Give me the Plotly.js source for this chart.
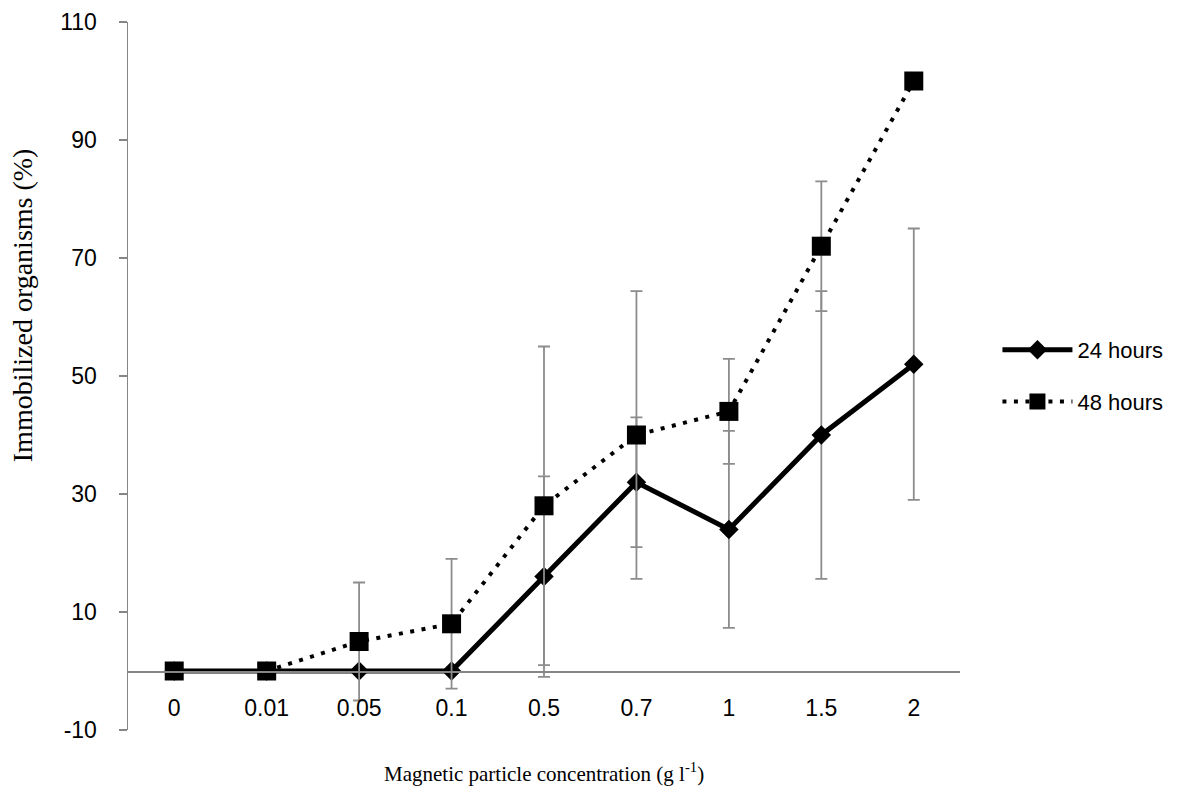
<!DOCTYPE html>
<html>
<head>
<meta charset="utf-8">
<script src="https://cdn.plot.ly/plotly-3.0.1.min.js"></script>
<style>html,body{margin:0;padding:0;background:#fff;}#chart{width:1177px;height:789px;}</style>
</head>
<body>
<div id="chart"></div>
<script>
var categories = ["0", "0.01", "0.05", "0.1", "0.5", "0.7", "1", "1.5", "2"];
var hours24 = [0, 0, 0, 0, 16, 32, 24, 40, 52];
var err24 = [0, 0, 0, 0, 17, 11, 16.7, 24.4, 23];
var hours48 = [0, 0, 5, 8, 28, 40, 44, 72, 100];
var err48 = [0, 0, 10, 11, 27, 24.4, 8.9, 11, 0];
var yTicks = [-10, 10, 30, 50, 70, 90, 110];
var yTickText = ["-10", "10", "30", "50", "70", "90", "110"];

var tickFont = {family: "Liberation Sans, Arial, sans-serif", size: 23, color: "#000"};

var traces = [
  {
    x: categories, y: hours24, name: "24 hours", type: "scatter", mode: "lines+markers",
    legendgroup: "a",
    line: {color: "#000", width: 5},
    marker: {symbol: "diamond", size: 15, color: "#000"},
    error_y: {type: "data", array: err24, visible: true, color: "#8c8c8c", thickness: 1.8, width: 6}
  },
  {
    x: categories, y: hours48, name: "48 hours", type: "scatter", mode: "lines+markers",
    legendgroup: "b",
    line: {color: "#000", width: 4, dash: "4px,7.5px"},
    marker: {symbol: "square", size: 19, color: "#000"},
    error_y: {type: "data", array: err48, visible: true, color: "#8c8c8c", thickness: 1.8, width: 6}
  }
];

var layout = {
  width: 1177, height: 789,
  margin: {l: 128, r: 217, t: 22, b: 59, autoexpand: false},
  paper_bgcolor: "#fff", plot_bgcolor: "#fff",
  showlegend: true,
  legend: {
    x: 1.045, y: 0.5, xanchor: "left", yanchor: "middle",
    font: {family: "Liberation Sans, Arial, sans-serif", size: 22, color: "#000"},
    itemwidth: 70, traceorder: "grouped", tracegroupgap: 20
  },
  xaxis: {
    type: "category", range: [-0.5, 8.5],
    anchor: "free", position: 10 / 120,
    showline: true, linecolor: "#868686", linewidth: 1.5,
    ticks: "", showgrid: false, zeroline: false,
    tickfont: tickFont,
    ticklabelstandoff: 16
  },
  yaxis: {
    range: [-10, 110], tickvals: yTicks, ticktext: yTickText,
    showline: true, linecolor: "#868686", linewidth: 1.5,
    ticks: "outside", ticklen: 8, tickcolor: "#868686", tickwidth: 1.5,
    showgrid: false, zeroline: false,
    tickfont: tickFont,
    ticklabelstandoff: 17
  },
  annotations: [
    {
      text: "Magnetic particle concentration (g l<sup>-1</sup>)",
      xref: "paper", yref: "paper", x: 0.5, y: 0, yshift: -42, xanchor: "center", yanchor: "middle",
      showarrow: false,
      font: {family: "Liberation Serif, Times New Roman, serif", size: 21, color: "#000"}
    },
    {
      text: "Immobilized organisms (%)",
      xref: "paper", yref: "paper", x: 0, xshift: -106, y: 0.6, xanchor: "center", yanchor: "middle",
      textangle: -90, showarrow: false,
      font: {family: "Liberation Serif, Times New Roman, serif", size: 28, color: "#000"}
    }
  ]
};

Plotly.newPlot("chart", traces, layout, {displayModeBar: false, staticPlot: true});
</script>
</body>
</html>
